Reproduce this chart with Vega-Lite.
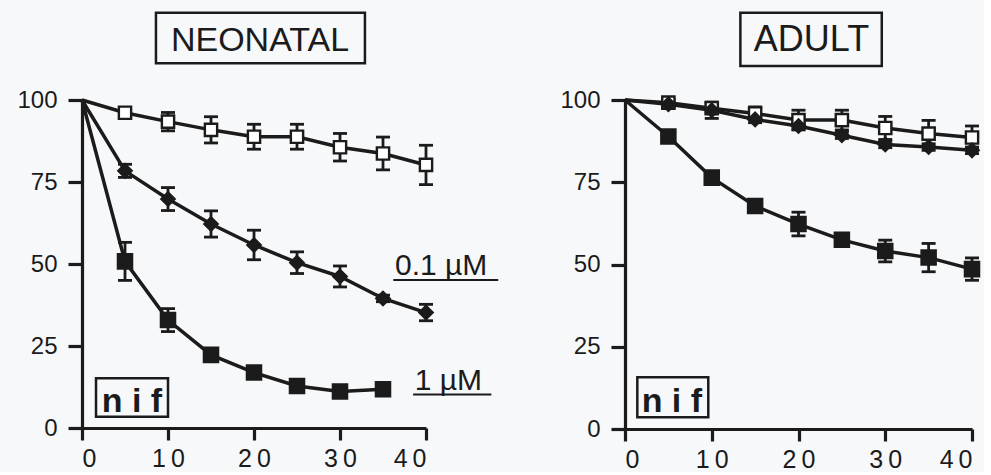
{
  "$schema": "https://vega.github.io/schema/vega-lite/v6.json",
  "background": "#f7f8fa",
  "padding": {"left": 16, "top": 11, "right": 0, "bottom": 0},
  "bounds": "flush",
  "spacing": 199,
  "config": {
    "view": {"stroke": null},
    "axis": {
      "domainColor": "#1b1b1b", "domainWidth": 3.2,
      "tickColor": "#1b1b1b", "tickWidth": 3.2,
      "labelFont": "Liberation Sans", "labelColor": "#1b1b1b",
      "grid": false
    },
    "text": {"font": "Liberation Sans", "color": "#1b1b1b"}
  },
  "datasets": {
    "pts": [
      {"panel": "N", "series": "ctrl", "t": 0, "v": 100, "e": 0},
      {"panel": "N", "series": "ctrl", "t": 5, "v": 96.1, "e": 1},
      {"panel": "N", "series": "ctrl", "t": 10, "v": 93.4, "e": 2.8},
      {"panel": "N", "series": "ctrl", "t": 15, "v": 90.9, "e": 4},
      {"panel": "N", "series": "ctrl", "t": 20, "v": 88.8, "e": 3.8},
      {"panel": "N", "series": "ctrl", "t": 25, "v": 88.8, "e": 3.8},
      {"panel": "N", "series": "ctrl", "t": 30, "v": 85.6, "e": 4.2},
      {"panel": "N", "series": "ctrl", "t": 35, "v": 83.7, "e": 5},
      {"panel": "N", "series": "ctrl", "t": 40, "v": 80.2, "e": 6},
      {"panel": "N", "series": "d01", "t": 0, "v": 100, "e": 0},
      {"panel": "N", "series": "d01", "t": 5, "v": 78.4, "e": 2},
      {"panel": "N", "series": "d01", "t": 10, "v": 69.8, "e": 3.5},
      {"panel": "N", "series": "d01", "t": 15, "v": 62.2, "e": 4},
      {"panel": "N", "series": "d01", "t": 20, "v": 55.8, "e": 4.5},
      {"panel": "N", "series": "d01", "t": 25, "v": 50.4, "e": 3.3},
      {"panel": "N", "series": "d01", "t": 30, "v": 46.2, "e": 3.2},
      {"panel": "N", "series": "d01", "t": 35, "v": 39.5, "e": 1},
      {"panel": "N", "series": "d01", "t": 40, "v": 35.2, "e": 2.5},
      {"panel": "N", "series": "d1", "t": 0, "v": 100, "e": 0},
      {"panel": "N", "series": "d1", "t": 5, "v": 50.8, "e": 5.8},
      {"panel": "N", "series": "d1", "t": 10, "v": 32.9, "e": 3.5},
      {"panel": "N", "series": "d1", "t": 15, "v": 22.3, "e": 1},
      {"panel": "N", "series": "d1", "t": 20, "v": 16.9, "e": 0.8},
      {"panel": "N", "series": "d1", "t": 25, "v": 12.8, "e": 0.8},
      {"panel": "N", "series": "d1", "t": 30, "v": 11.1, "e": 0.8},
      {"panel": "N", "series": "d1", "t": 35, "v": 11.8, "e": 0.8},
      {"panel": "A", "series": "ctrl", "t": 0, "v": 100, "e": 0},
      {"panel": "A", "series": "ctrl", "t": 5, "v": 99.2, "e": 1},
      {"panel": "A", "series": "ctrl", "t": 10, "v": 97.5, "e": 1.5},
      {"panel": "A", "series": "ctrl", "t": 15, "v": 95.9, "e": 2},
      {"panel": "A", "series": "ctrl", "t": 20, "v": 93.9, "e": 3},
      {"panel": "A", "series": "ctrl", "t": 25, "v": 93.9, "e": 3},
      {"panel": "A", "series": "ctrl", "t": 30, "v": 91.5, "e": 3.5},
      {"panel": "A", "series": "ctrl", "t": 35, "v": 89.8, "e": 4},
      {"panel": "A", "series": "ctrl", "t": 40, "v": 88.6, "e": 3.5},
      {"panel": "A", "series": "d01", "t": 0, "v": 100, "e": 0},
      {"panel": "A", "series": "d01", "t": 5, "v": 98.7, "e": 1},
      {"panel": "A", "series": "d01", "t": 10, "v": 96.9, "e": 2.5},
      {"panel": "A", "series": "d01", "t": 15, "v": 94.1, "e": 1},
      {"panel": "A", "series": "d01", "t": 20, "v": 92.1, "e": 1},
      {"panel": "A", "series": "d01", "t": 25, "v": 89.3, "e": 1},
      {"panel": "A", "series": "d01", "t": 30, "v": 86.5, "e": 1},
      {"panel": "A", "series": "d01", "t": 35, "v": 85.7, "e": 1},
      {"panel": "A", "series": "d01", "t": 40, "v": 84.7, "e": 1},
      {"panel": "A", "series": "d1", "t": 0, "v": 100, "e": 0},
      {"panel": "A", "series": "d1", "t": 5, "v": 88.9, "e": 1},
      {"panel": "A", "series": "d1", "t": 10, "v": 76.4, "e": 1},
      {"panel": "A", "series": "d1", "t": 15, "v": 67.8, "e": 1.5},
      {"panel": "A", "series": "d1", "t": 20, "v": 62.3, "e": 3.6},
      {"panel": "A", "series": "d1", "t": 25, "v": 57.5, "e": 1.5},
      {"panel": "A", "series": "d1", "t": 30, "v": 54.1, "e": 3.3},
      {"panel": "A", "series": "d1", "t": 35, "v": 52.1, "e": 4.3},
      {"panel": "A", "series": "d1", "t": 40, "v": 48.6, "e": 3.4}
    ],
    "titles": [
      {"panel": "N", "label": "NEONATAL", "t": 20.7, "v": 118.4, "t1": 8.6, "t2": 32.9, "v1": 111.2, "v2": 126.6},
      {"panel": "A", "label": "ADULT", "t": 21.5, "v": 118.4, "t1": 13.3, "t2": 29.6, "v1": 110.3, "v2": 126.5}
    ],
    "nif": [
      {"panel": "N", "label": "n i f", "t": 5.8, "v": 5.0, "t1": 1.63, "t2": 10.0, "v1": 3.4, "v2": 15.2},
      {"panel": "A", "label": "n i f", "t": 5.4, "v": 5.2, "t1": 1.42, "t2": 9.6, "v1": 3.55, "v2": 15.7}
    ],
    "conc": [
      {"panel": "N", "label": "0.1 µM", "t": 36.4, "v": 46.6, "t1": 36.2, "t2": 48.4, "vu": 45.1},
      {"panel": "N", "label": "1 µM", "t": 38.7, "v": 11.6, "t1": 38.5, "t2": 47.6, "vu": 10.2}
    ]
  },
  "hconcat": [
    {
      "width": 344, "height": 328,
      "layer": [
        {
          "data": {"name": "pts"},
          "transform": [{"filter": "datum.panel == 'N'"}],
          "mark": {"type": "line", "stroke": "#1b1b1b", "strokeWidth": 3.5},
          "encoding": {
            "x": {"field": "t", "type": "quantitative", "scale": {"domain": [0, 40]},
                  "axis": {"title": null, "values": [0, 10, 20, 30, 40], "tickSize": 12, "tickWidth": 3.2, "labelFontSize": 25, "labelPadding": 6,
                           "labelExpr": "join(split(datum.label, ''), '\u2009')"}},
            "y": {"field": "v", "type": "quantitative", "scale": {"domain": [0, 100]},
                  "axis": {"title": null, "values": [0, 25, 50, 75, 100], "tickSize": 14, "tickWidth": 3.2, "labelFontSize": 24, "labelPadding": 11}},
            "detail": {"field": "series"}
          }
        },
        {
          "data": {"name": "pts"},
          "transform": [{"filter": "datum.panel == 'N' && datum.t > 0"}],
          "mark": {"type": "errorbar", "ticks": {"size": 14, "thickness": 2.8, "color": "#1b1b1b", "opacity": 1}, "rule": {"strokeWidth": 2.8, "color": "#1b1b1b", "opacity": 1}},
          "encoding": {
            "x": {"field": "t", "type": "quantitative", "title": null},
            "y": {"field": "v", "type": "quantitative", "title": null},
            "yError": {"field": "e"}
          }
        },
        {
          "data": {"name": "pts"},
          "transform": [{"filter": "datum.panel == 'N' && datum.t > 0"}],
          "mark": {"type": "point", "filled": true, "stroke": "#1b1b1b", "strokeWidth": 2.4, "opacity": 1},
          "encoding": {
            "x": {"field": "t", "type": "quantitative", "title": null},
            "y": {"field": "v", "type": "quantitative", "title": null},
            "shape": {"field": "series", "scale": {"domain": ["ctrl", "d01", "d1"], "range": ["square", "diamond", "square"]}, "legend": null},
            "fill": {"field": "series", "scale": {"domain": ["ctrl", "d01", "d1"], "range": ["#ffffff", "#1b1b1b", "#1b1b1b"]}, "legend": null},
            "size": {"field": "series", "scale": {"domain": ["ctrl", "d01", "d1"], "range": [150, 200, 230]}, "legend": null}
          }
        },
        {
          "data": {"name": "titles"},
          "transform": [{"filter": "datum.panel == 'N'"}],
          "mark": {"type": "rect", "filled": false, "stroke": "#1b1b1b", "strokeWidth": 2.5},
          "encoding": {
            "x": {"field": "t1", "type": "quantitative", "title": null}, "x2": {"field": "t2"},
            "y": {"field": "v1", "type": "quantitative", "title": null}, "y2": {"field": "v2"}
          }
        },
        {
          "data": {"name": "titles"},
          "transform": [{"filter": "datum.panel == 'N'"}],
          "mark": {"type": "text", "fontSize": 34, "align": "center", "baseline": "middle", "dy": 1},
          "encoding": {
            "x": {"field": "t", "type": "quantitative", "title": null},
            "y": {"field": "v", "type": "quantitative", "title": null},
            "text": {"field": "label"}
          }
        },
        {
          "data": {"name": "nif"},
          "transform": [{"filter": "datum.panel == 'N'"}],
          "mark": {"type": "rect", "filled": false, "stroke": "#1b1b1b", "strokeWidth": 2.5},
          "encoding": {
            "x": {"field": "t1", "type": "quantitative", "title": null}, "x2": {"field": "t2"},
            "y": {"field": "v1", "type": "quantitative", "title": null}, "y2": {"field": "v2"}
          }
        },
        {
          "data": {"name": "nif"},
          "transform": [{"filter": "datum.panel == 'N'"}],
          "mark": {"type": "text", "fontSize": 34, "fontWeight": "bold", "align": "center", "baseline": "alphabetic"},
          "encoding": {
            "x": {"field": "t", "type": "quantitative", "title": null},
            "y": {"field": "v", "type": "quantitative", "title": null},
            "text": {"field": "label"}
          }
        },
        {
          "data": {"name": "conc"},
          "transform": [{"filter": "datum.panel == 'N'"}],
          "mark": {"type": "text", "fontSize": 30, "align": "left", "baseline": "alphabetic"},
          "encoding": {
            "x": {"field": "t", "type": "quantitative", "title": null},
            "y": {"field": "v", "type": "quantitative", "title": null},
            "text": {"field": "label"}
          }
        },
        {
          "data": {"name": "conc"},
          "transform": [{"filter": "datum.panel == 'N'"}],
          "mark": {"type": "rule", "stroke": "#1b1b1b", "strokeWidth": 2},
          "encoding": {
            "x": {"field": "t1", "type": "quantitative", "title": null}, "x2": {"field": "t2"},
            "y": {"field": "vu", "type": "quantitative", "title": null}
          }
        }
      ]
    },
    {
      "width": 347, "height": 329,
      "layer": [
        {
          "data": {"name": "pts"},
          "transform": [{"filter": "datum.panel == 'A'"}],
          "mark": {"type": "line", "stroke": "#1b1b1b", "strokeWidth": 3.5},
          "encoding": {
            "x": {"field": "t", "type": "quantitative", "scale": {"domain": [0, 40]},
                  "axis": {"title": null, "values": [0, 10, 20, 30, 40], "tickSize": 12, "tickWidth": 3.2, "labelFontSize": 25, "labelPadding": 6,
                           "labelExpr": "join(split(datum.label, ''), '\u2009')"}},
            "y": {"field": "v", "type": "quantitative", "scale": {"domain": [0, 100]},
                  "axis": {"title": null, "values": [0, 25, 50, 75, 100], "tickSize": 14, "tickWidth": 3.2, "labelFontSize": 24, "labelPadding": 11}},
            "detail": {"field": "series"}
          }
        },
        {
          "data": {"name": "pts"},
          "transform": [{"filter": "datum.panel == 'A' && datum.t > 0"}],
          "mark": {"type": "errorbar", "ticks": {"size": 14, "thickness": 2.8, "color": "#1b1b1b", "opacity": 1}, "rule": {"strokeWidth": 2.8, "color": "#1b1b1b", "opacity": 1}},
          "encoding": {
            "x": {"field": "t", "type": "quantitative", "title": null},
            "y": {"field": "v", "type": "quantitative", "title": null},
            "yError": {"field": "e"}
          }
        },
        {
          "data": {"name": "pts"},
          "transform": [{"filter": "datum.panel == 'A' && datum.t > 0"}],
          "mark": {"type": "point", "filled": true, "stroke": "#1b1b1b", "strokeWidth": 2.4, "opacity": 1},
          "encoding": {
            "x": {"field": "t", "type": "quantitative", "title": null},
            "y": {"field": "v", "type": "quantitative", "title": null},
            "shape": {"field": "series", "scale": {"domain": ["ctrl", "d01", "d1"], "range": ["square", "diamond", "square"]}, "legend": null},
            "fill": {"field": "series", "scale": {"domain": ["ctrl", "d01", "d1"], "range": ["#ffffff", "#1b1b1b", "#1b1b1b"]}, "legend": null},
            "size": {"field": "series", "scale": {"domain": ["ctrl", "d01", "d1"], "range": [150, 200, 230]}, "legend": null}
          }
        },
        {
          "data": {"name": "titles"},
          "transform": [{"filter": "datum.panel == 'A'"}],
          "mark": {"type": "rect", "filled": false, "stroke": "#1b1b1b", "strokeWidth": 2.5},
          "encoding": {
            "x": {"field": "t1", "type": "quantitative", "title": null}, "x2": {"field": "t2"},
            "y": {"field": "v1", "type": "quantitative", "title": null}, "y2": {"field": "v2"}
          }
        },
        {
          "data": {"name": "titles"},
          "transform": [{"filter": "datum.panel == 'A'"}],
          "mark": {"type": "text", "fontSize": 36, "align": "center", "baseline": "middle", "dy": 1},
          "encoding": {
            "x": {"field": "t", "type": "quantitative", "title": null},
            "y": {"field": "v", "type": "quantitative", "title": null},
            "text": {"field": "label"}
          }
        },
        {
          "data": {"name": "nif"},
          "transform": [{"filter": "datum.panel == 'A'"}],
          "mark": {"type": "rect", "filled": false, "stroke": "#1b1b1b", "strokeWidth": 2.5},
          "encoding": {
            "x": {"field": "t1", "type": "quantitative", "title": null}, "x2": {"field": "t2"},
            "y": {"field": "v1", "type": "quantitative", "title": null}, "y2": {"field": "v2"}
          }
        },
        {
          "data": {"name": "nif"},
          "transform": [{"filter": "datum.panel == 'A'"}],
          "mark": {"type": "text", "fontSize": 34, "fontWeight": "bold", "align": "center", "baseline": "alphabetic"},
          "encoding": {
            "x": {"field": "t", "type": "quantitative", "title": null},
            "y": {"field": "v", "type": "quantitative", "title": null},
            "text": {"field": "label"}
          }
        }
      ]
    }
  ]
}
